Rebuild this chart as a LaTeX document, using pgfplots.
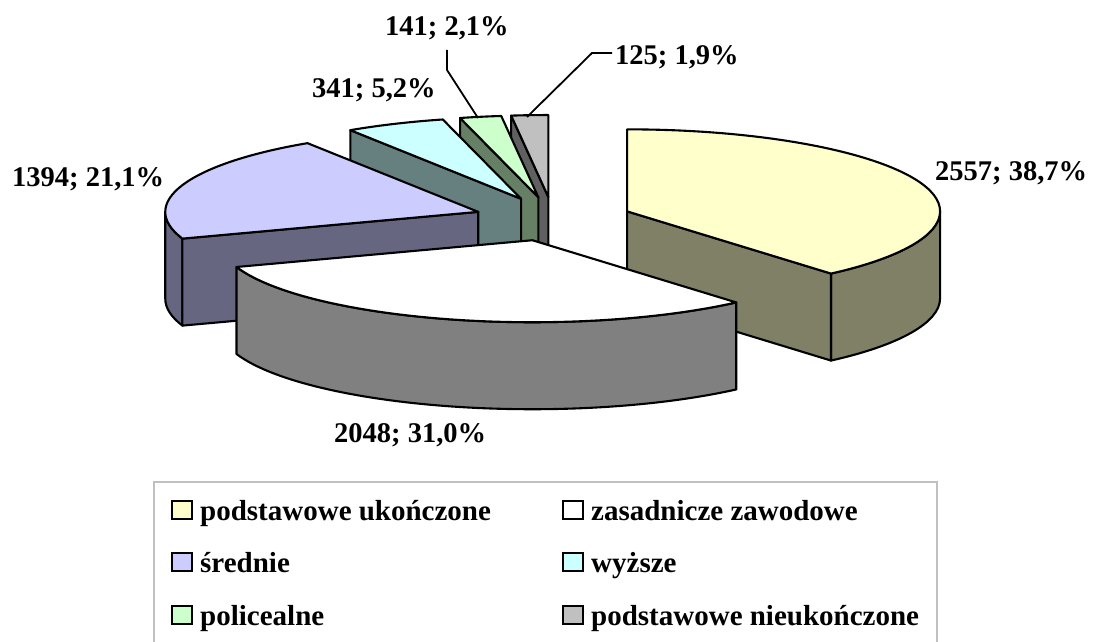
\documentclass[border=0pt]{standalone}
\usepackage{pgfplots}
\pgfplotsset{compat=1.18}
\usepackage{fontspec}
\setmainfont{Liberation Serif}

\definecolor{ytop}{HTML}{FFFFCC}\definecolor{yside}{HTML}{808066}
\definecolor{wtop}{HTML}{FFFFFF}\definecolor{wside}{HTML}{808080}
\definecolor{ptop}{HTML}{CCCCFF}\definecolor{pside}{HTML}{666680}
\definecolor{ctop}{HTML}{CCFFFF}\definecolor{cside}{HTML}{668080}
\definecolor{gtop}{HTML}{CCFFCC}\definecolor{gside}{HTML}{668066}
\definecolor{stop}{HTML}{C0C0C0}\definecolor{sside}{HTML}{606060}
\definecolor{lgray}{HTML}{C0C0C0}

% data: counts per category
\pgfmathsetmacro\total{2557+2048+1394+341+141+125}
\def\ra{313}\def\rb{82}\def\dep{87}

% #1 cumulative before, #2 value, #3 top colour, #4 side colour
\newcommand\slice[4]{%
 \pgfmathsetmacro\ts{360*((#1)/\total)}%
 \pgfmathsetmacro\te{360*((#1+#2)/\total)}%
 \pgfmathsetmacro\tm{(\ts+\te)/2}%
 \pgfmathsetmacro\px{553+79*sin(\tm)}%
 \pgfmathsetmacro\py{422+22*cos(\tm)}%
 \pgfmathsetmacro\pyb{\py-\dep}%
 \pgfmathsetmacro\xs{\px+\ra*sin(\ts)}%
 \pgfmathsetmacro\ys{\py+\rb*cos(\ts)}%
 \pgfmathsetmacro\ysd{\ys-\dep}%
 \pgfmathsetmacro\xe{\px+\ra*sin(\te)}%
 \pgfmathsetmacro\ye{\py+\rb*cos(\te)}%
 \pgfmathsetmacro\yed{\ye-\dep}%
 \pgfmathsetmacro\phis{90-\ts}%
 \pgfmathsetmacro\phie{90-\te}%
 \pgfmathsetmacro\ta{max(\ts,90)}%
 \pgfmathsetmacro\tb{min(\te,270)}%
 \pgfmathtruncatemacro\hasarc{\ta<\tb ? 1 : 0}%
 \ifnum\hasarc=1
   \pgfmathsetmacro\xa{\px+\ra*sin(\ta)}%
   \pgfmathsetmacro\ya{\py+\rb*cos(\ta)}%
   \pgfmathsetmacro\yad{\ya-\dep}%
   \pgfmathsetmacro\xb{\px+\ra*sin(\tb)}%
   \pgfmathsetmacro\yb{\py+\rb*cos(\tb)}%
   \pgfmathsetmacro\ybd{\yb-\dep}%
   \pgfmathsetmacro\pa{90-\ta}\pgfmathsetmacro\pb{90-\tb}%
   \edef\doit{\noexpand\filldraw[fill=#4] (axis cs:\xa,\ya) arc[start angle=\pa,end angle=\pb,x radius=\ra,y radius=\rb] -- (axis cs:\xb,\ybd) arc[start angle=\pb,end angle=\pa,x radius=\ra,y radius=\rb] -- cycle;}\doit
 \fi
 \pgfmathtruncatemacro\vs{sin(\ts)<-0.01 ? 1 : 0}%
 \ifnum\vs=1
   \edef\doit{\noexpand\filldraw[fill=#4] (axis cs:\px,\py) -- (axis cs:\xs,\ys) -- (axis cs:\xs,\ysd) -- (axis cs:\px,\pyb) -- cycle;}\doit
 \fi
 \pgfmathtruncatemacro\ve{sin(\te)>0.01 ? 1 : 0}%
 \ifnum\ve=1
   \edef\doit{\noexpand\filldraw[fill=#4] (axis cs:\px,\py) -- (axis cs:\xe,\ye) -- (axis cs:\xe,\yed) -- (axis cs:\px,\pyb) -- cycle;}\doit
 \fi
 \edef\doit{\noexpand\filldraw[fill=#3] (axis cs:\px,\py) -- (axis cs:\xs,\ys) arc[start angle=\phis,end angle=\phie,x radius=\ra,y radius=\rb] -- cycle;}\doit
}

\newcommand\lentry[4]{%
 \draw[fill=#3, line width=2pt] (axis cs:#1,#2+1) rectangle (axis cs:#1+20,#2+19);
 \node[anchor=base west, inner sep=0pt, font=\bfseries\fontsize{29}{34}\selectfont] at (axis cs:#1+28,#2) {#4};
}

\begin{document}
\begin{tikzpicture}
\begin{axis}[
  x=1pt, y=1pt,
  xmin=0, xmax=1093, ymin=0, ymax=641,
  hide axis, clip=true,
]
\coordinate (bl) at (axis cs:0,0);
\coordinate (tr) at (axis cs:1093,641);
\begin{scope}[line width=2.1pt, line join=round, draw=black]
\slice{2557+2048+1394+341+141}{125}{stop}{sside}
\slice{2557+2048+1394+341}{141}{gtop}{gside}
\slice{2557+2048+1394}{341}{ctop}{cside}
\slice{2557+2048}{1394}{ptop}{pside}
\slice{0}{2557}{ytop}{yside}
\slice{2557}{2048}{wtop}{wside}
\end{scope}

\begin{scope}[every node/.style={anchor=base west, inner sep=0pt, font=\bfseries\fontsize{28.5}{34}\selectfont}]
\node at (axis cs:935,460) {2557; 38,7\%};
\node at (axis cs:334,199) {2048; 31,0\%};
\node at (axis cs:12,454) {1394; 21,1\%};
\node at (axis cs:312,543) {341; 5,2\%};
\node at (axis cs:385,605) {141; 2,1\%};
\node at (axis cs:615,576) {125; 1,9\%};
\end{scope}
\draw[line width=1.8pt] (axis cs:447,591) -- (axis cs:447,571) -- (axis cs:478,523);
\draw[line width=1.8pt] (axis cs:612,588) -- (axis cs:592,588) -- (axis cs:527,524);

\draw[draw=lgray, line width=2pt] (axis cs:154,159) rectangle (axis cs:937,-30);
\lentry{172}{121}{ytop}{podstawowe ukończone}
\lentry{563}{121}{wtop}{zasadnicze zawodowe}
\lentry{172}{69}{ptop}{średnie}
\lentry{563}{69}{ctop}{wyższe}
\lentry{172}{16}{gtop}{policealne}
\lentry{563}{16}{stop}{podstawowe nieukończone}
\end{axis}
\pgfresetboundingbox
\path (bl) rectangle (tr);
\end{tikzpicture}
\end{document}
